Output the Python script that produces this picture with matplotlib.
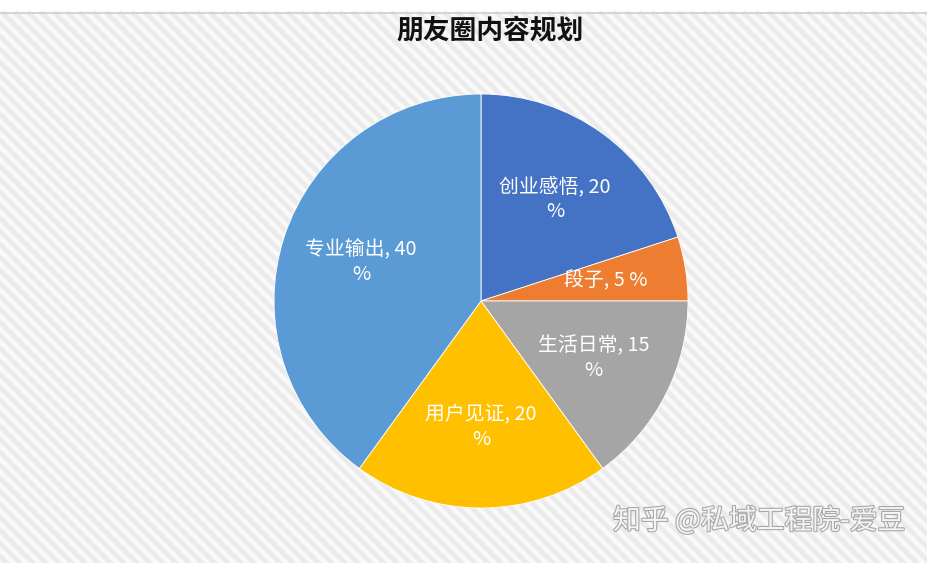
import matplotlib
matplotlib.use('Agg')
import matplotlib.pyplot as plt
import matplotlib.patheffects as pe

plt.rcParams['font.family'] = ['Noto Sans CJK SC', 'DejaVu Sans']

title = '朋友圈内容规划'
names = ['创业感悟', '段子', '生活日常', '用户见证', '专业输出']
shares = [20, 5, 15, 20, 40]
colors = ['#4472C4', '#ED7D31', '#A5A5A5', '#FFC000', '#5B9BD5']
watermark = '知乎 @私域工程院-爱豆'

W, H = 928, 563
fig = plt.figure(figsize=(W / 100, H / 100), dpi=100)

# background: white strip at top, then light diagonal stripes
bg = fig.add_axes([0, 0, 1, 1])
bg.set_xlim(0, W)
bg.set_ylim(H, 0)
bg.axis('off')
bg.axhspan(0, 12, color='white', zorder=0)
bg.axhspan(12, H, color='#f9f9f9', zorder=0)
bg.axhline(12.5, color='#cfcfcf', lw=1.2, zorder=2)
for c in range(-700, W + 20, 13):
    bg.plot([c, c + H], [12, H + 12], color='#ebebeb', lw=3.4,
            solid_capstyle='butt', zorder=1)

# pie, centre (481, 301) px, radius 207 px
cx, cy, r = 481, 301, 207
ax = fig.add_axes([(cx - r) / W, (H - cy - r) / H, 2 * r / W, 2 * r / H])


def make_label(name, v):
    if v < 10:
        return f'{name}, {v} %'
    return f'{name}, {v}\n%'


labels = [make_label(n, v) for n, v in zip(names, shares)]
ax.pie(shares, labels=labels, colors=colors, startangle=90, counterclock=False,
       labeldistance=0.61,
       wedgeprops=dict(edgecolor='white', linewidth=0.6),
       textprops=dict(color='white', fontsize=14.3, ha='center', va='center',
                      multialignment='center', linespacing=1.25))
ax.set_xlim(-1, 1)
ax.set_ylim(-1, 1)
ax.set_aspect('equal')
ax.axis('off')

fig.text(490 / W, 1 - 30 / H, title, ha='center', va='center',
         fontsize=19.3, fontweight='bold', color='#111111')

fig.text(905 / W, 1 - 521 / H, watermark, ha='right', va='center',
         fontsize=20, color='#f4f4f4',
         path_effects=[pe.withStroke(linewidth=1.6, foreground='#a8a8a8')])

fig.savefig('out.png', dpi=100)
